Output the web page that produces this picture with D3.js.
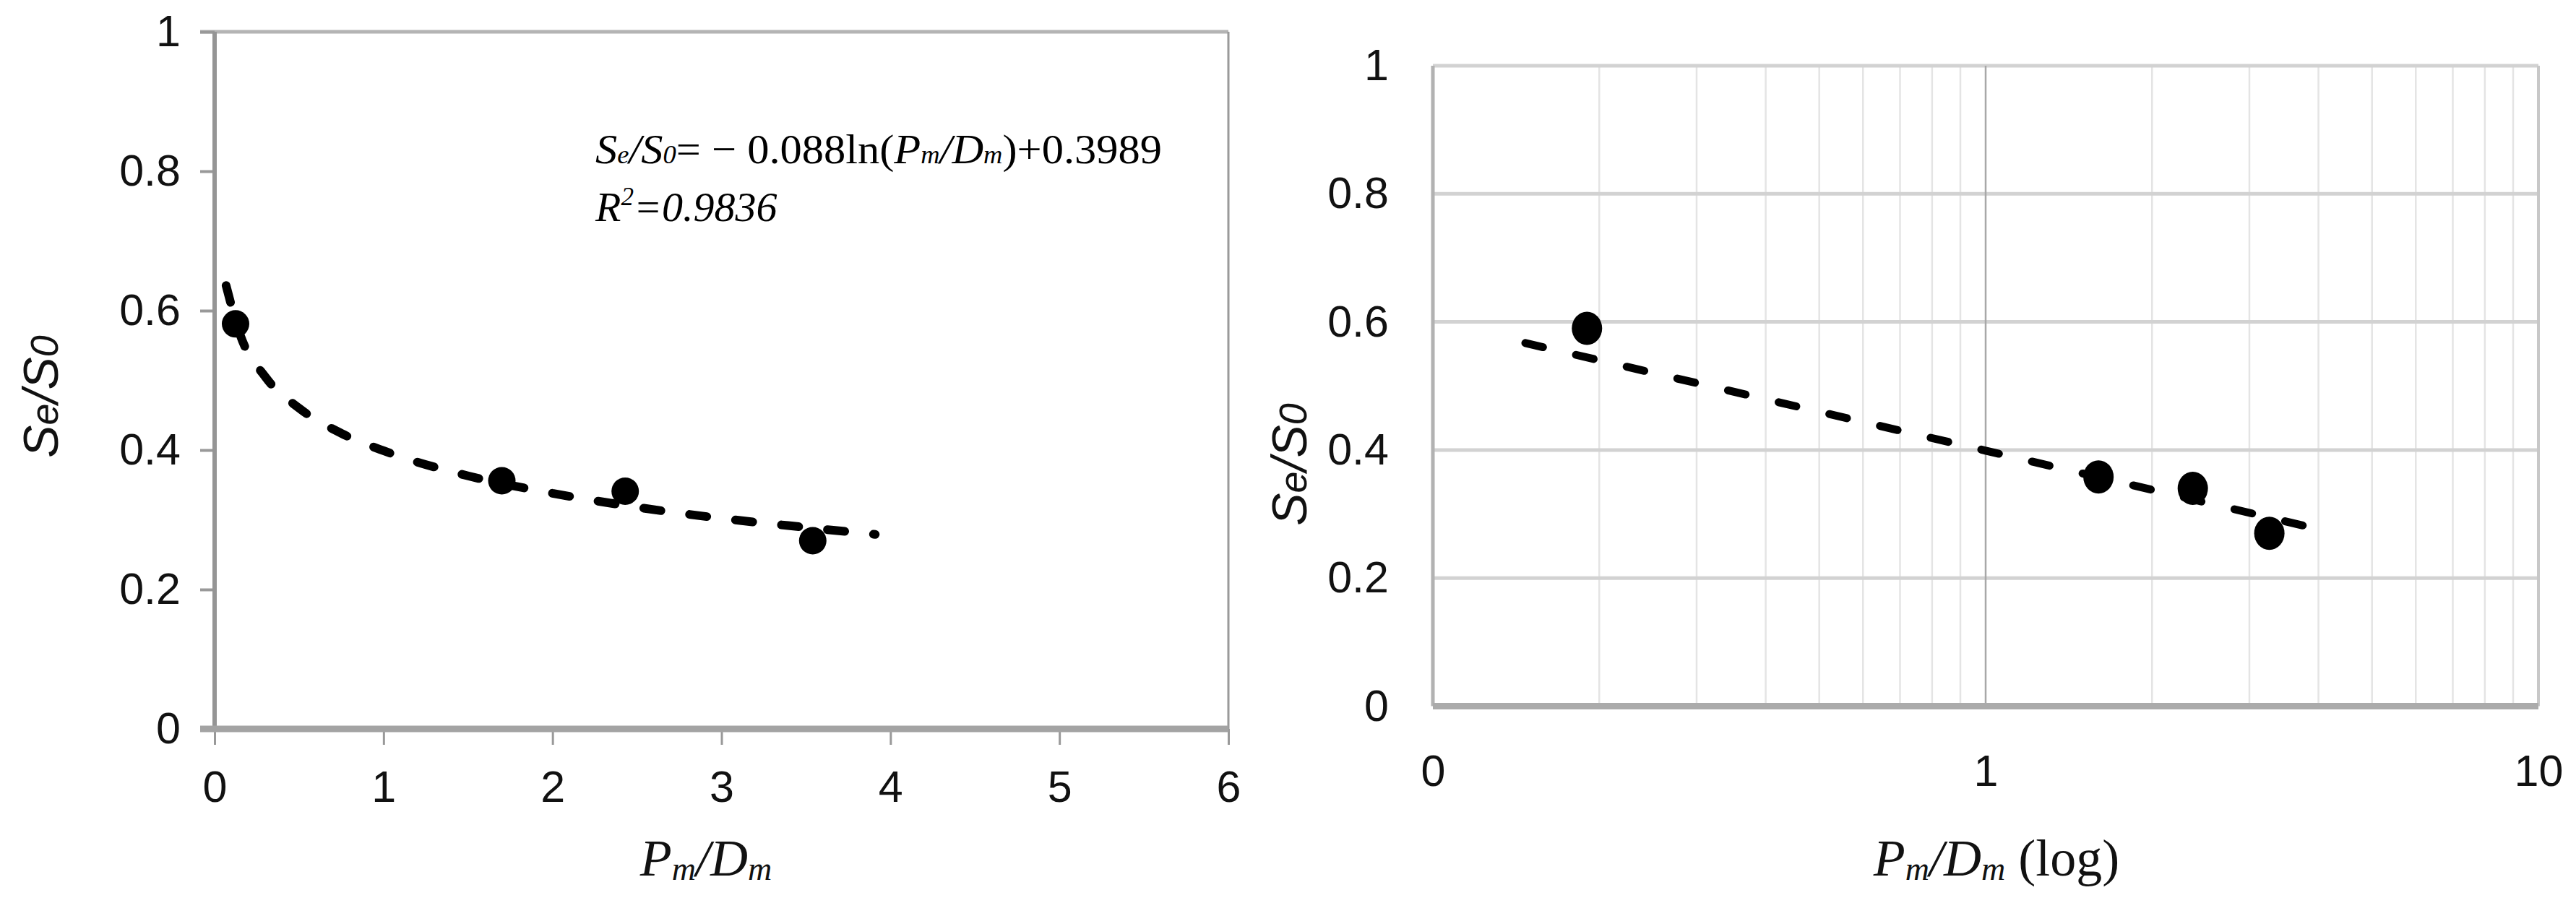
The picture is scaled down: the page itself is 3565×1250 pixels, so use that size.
<!DOCTYPE html>
<html>
<head>
<meta charset="utf-8">
<script src="https://d3js.org/d3.v7.min.js"></script>
<style>
  html, body { margin: 0; padding: 0; background: #fff; }
  svg { display: block; }
  .tick text { font-family: "Liberation Sans", Arial, sans-serif; font-size: 61px; fill: #111; }
  .ytitle { font-family: "Liberation Sans", Arial, sans-serif; font-style: italic; font-size: 68px; fill: #111; }
  .xtitle { font-family: "Liberation Serif", "Times New Roman", serif; font-size: 72px; fill: #111; }
  .eq { font-family: "Liberation Serif", "Times New Roman", serif; font-size: 58px; fill: #000; }
</style>
</head>
<body>
<svg id="chart" width="3565" height="1250"></svg>
<script>
  // left panel (linear x)
  var leftX = [0.124, 1.70, 2.43, 3.54];
  var leftY = [0.581, 0.356, 0.341, 0.270];
  var leftTrendX = [0.068, 0.15, 0.3, 0.5, 0.75, 1, 1.5, 2, 2.5, 3, 3.5, 3.91];
  var leftTrendY = [0.636, 0.566, 0.505, 0.460, 0.424, 0.399, 0.363, 0.338, 0.318, 0.302, 0.289, 0.279];
  var leftXTicks = [0, 1, 2, 3, 4, 5, 6];
  var leftXTickLabels = ["0", "1", "2", "3", "4", "5", "6"];
  var yTicks = [0, 0.2, 0.4, 0.6, 0.8, 1];
  var yTickLabels = ["0", "0.2", "0.4", "0.6", "0.8", "1"];

  // right panel (log x)
  var rightX = [0.19, 1.60, 2.37, 3.26];
  var rightY = [0.590, 0.358, 0.340, 0.270];
  var rightTrendX = [0.147, 1, 3.8];
  var rightTrendY = [0.567, 0.399, 0.281];
  var rightXTicks = [0.1, 1, 10];
  var rightXTickLabels = ["0", "1", "10"];
  var rightMinor = [0.2, 0.3, 0.4, 0.5, 0.6, 0.7, 0.8, 0.9, 2, 3, 4, 5, 6, 7, 8, 9];

  var svg = d3.select("#chart");

  // ---------- left chart ----------
  var xL = d3.scaleLinear().domain([0, 6]).range([297, 1700]);
  var yL = d3.scaleLinear().domain([0, 1]).range([1009, 44]);

  var gL = svg.append("g");

  // frame: top + right
  gL.append("line")
    .attr("x1", xL(0) - 20).attr("x2", xL(6))
    .attr("y1", yL(1)).attr("y2", yL(1))
    .attr("stroke", "#b4b4b4").attr("stroke-width", 5);
  gL.append("line")
    .attr("x1", xL(6)).attr("x2", xL(6))
    .attr("y1", yL(1)).attr("y2", yL(0))
    .attr("stroke", "#9a9a9a").attr("stroke-width", 3);

  var yAxL = gL.append("g")
    .attr("transform", "translate(" + xL(0) + ",0)")
    .call(d3.axisLeft(yL).tickValues(yTicks).tickSize(20).tickPadding(27)
      .tickFormat(function (d, i) { return yTickLabels[i]; }));
  yAxL.select(".domain").remove();
  yAxL.selectAll(".tick line").attr("stroke", "#999").attr("stroke-width", 4);

  var xAxL = gL.append("g")
    .attr("transform", "translate(0," + yL(0) + ")")
    .call(d3.axisBottom(xL).tickValues(leftXTicks).tickSize(22).tickPadding(36)
      .tickFormat(function (d, i) { return leftXTickLabels[i]; }));
  xAxL.select(".domain").remove();
  xAxL.selectAll(".tick line").attr("stroke", "#999").attr("stroke-width", 3);

  // y axis line
  gL.append("line")
    .attr("x1", xL(0)).attr("x2", xL(0))
    .attr("y1", yL(1)).attr("y2", yL(0))
    .attr("stroke", "#959595").attr("stroke-width", 6);
  // x axis line (thick)
  gL.append("line")
    .attr("x1", xL(0) - 20).attr("x2", xL(6))
    .attr("y1", yL(0)).attr("y2", yL(0))
    .attr("stroke", "#a3a3a3").attr("stroke-width", 9);

  var trendL = leftTrendX.map(function (d, i) { return [d, leftTrendY[i]]; });
  gL.append("path")
    .datum(trendL)
    .attr("fill", "none")
    .attr("stroke", "#000")
    .attr("stroke-width", 12)
    .attr("stroke-linecap", "round")
    .attr("stroke-dasharray", "24,40")
    .attr("d", d3.line()
      .x(function (d) { return xL(d[0]); })
      .y(function (d) { return yL(d[1]); })
      .curve(d3.curveMonotoneX));

  gL.selectAll(".dot")
    .data(leftX)
    .enter()
    .append("circle")
    .attr("class", "dot")
    .attr("cx", function (d) { return xL(d); })
    .attr("cy", function (d, i) { return yL(leftY[i]); })
    .attr("r", 19)
    .attr("fill", "#000");

  // equation
  var eq = gL.append("text").attr("class", "eq")
    .attr("x", 824).attr("y", 226)
    .attr("textLength", 784).attr("lengthAdjust", "spacingAndGlyphs");
  eq.append("tspan").attr("font-style", "italic").text("S");
  eq.append("tspan").attr("font-style", "italic").attr("font-size", "35px").text("e");
  eq.append("tspan").attr("font-style", "italic").text("/S");
  eq.append("tspan").attr("font-style", "italic").attr("font-size", "35px").text("0");
  eq.append("tspan").text("= \u2212 0.088ln(");
  eq.append("tspan").attr("font-style", "italic").text("P");
  eq.append("tspan").attr("font-style", "italic").attr("font-size", "35px").text("m");
  eq.append("tspan").attr("font-style", "italic").text("/D");
  eq.append("tspan").attr("font-style", "italic").attr("font-size", "35px").text("m");
  eq.append("tspan").text(")+0.3989");

  var r2 = gL.append("text").attr("class", "eq")
    .attr("x", 824).attr("y", 306).attr("font-style", "italic");
  r2.append("tspan").text("R");
  r2.append("tspan").attr("font-size", "35px").attr("dy", -22).text("2");
  r2.append("tspan").attr("dy", 22).text("=0.9836");

  // axis titles
  var xtL = gL.append("text").attr("class", "xtitle")
    .attr("x", 977).attr("y", 1212).attr("text-anchor", "middle").attr("font-style", "italic");
  xtL.append("tspan").text("P");
  xtL.append("tspan").attr("font-size", "46px").attr("dy", 6).text("m");
  xtL.append("tspan").attr("dy", -6).text("/D");
  xtL.append("tspan").attr("font-size", "46px").attr("dy", 6).text("m");

  function yTitle(g, x, y) {
    var t = g.append("text").attr("class", "ytitle")
      .attr("transform", "translate(" + x + "," + y + ") rotate(-90)")
      .attr("text-anchor", "middle");
    t.append("tspan").text("S");
    t.append("tspan").attr("font-size", "54px").text("e");
    t.append("tspan").text("/S");
    t.append("tspan").attr("font-size", "54px").text("0");
  }
  yTitle(gL, 80, 549);

  // ---------- right chart ----------
  var xR = d3.scaleLog().domain([0.1, 10]).range([1983, 3513]);
  var yR = d3.scaleLinear().domain([0, 1]).range([977.5, 91]);

  var gR = svg.append("g");

  gR.selectAll(".vminor")
    .data(rightMinor)
    .enter()
    .append("line")
    .attr("class", "vminor")
    .attr("x1", function (d) { return xR(d); })
    .attr("x2", function (d) { return xR(d); })
    .attr("y1", yR(1)).attr("y2", yR(0))
    .attr("stroke", "#e4e4e4").attr("stroke-width", 2.5);

  gR.selectAll(".hgrid")
    .data(yTicks.slice(1))
    .enter()
    .append("line")
    .attr("class", "hgrid")
    .attr("x1", xR(0.1)).attr("x2", xR(10))
    .attr("y1", function (d) { return yR(d); })
    .attr("y2", function (d) { return yR(d); })
    .attr("stroke", "#d2d2d2").attr("stroke-width", 5);

  gR.append("line")
    .attr("x1", xR(1)).attr("x2", xR(1))
    .attr("y1", yR(1)).attr("y2", yR(0))
    .attr("stroke", "#a8a8a8").attr("stroke-width", 2.5);
  gR.append("line")
    .attr("x1", xR(10)).attr("x2", xR(10))
    .attr("y1", yR(1)).attr("y2", yR(0))
    .attr("stroke", "#c8c8c8").attr("stroke-width", 4);

  var yAxR = gR.append("g")
    .attr("transform", "translate(" + xR(0.1) + ",0)")
    .call(d3.axisLeft(yR).tickValues(yTicks).tickSize(0).tickPadding(61)
      .tickFormat(function (d, i) { return yTickLabels[i]; }));
  yAxR.select(".domain").remove();

  var xAxR = gR.append("g")
    .attr("transform", "translate(0," + yR(0) + ")")
    .call(d3.axisBottom(xR).tickValues(rightXTicks).tickSize(0).tickPadding(67)
      .tickFormat(function (d, i) { return rightXTickLabels[i]; }));
  xAxR.select(".domain").remove();

  gR.append("line")
    .attr("x1", xR(0.1)).attr("x2", xR(0.1))
    .attr("y1", yR(1)).attr("y2", yR(0))
    .attr("stroke", "#b2b2b2").attr("stroke-width", 5);
  gR.append("line")
    .attr("x1", xR(0.1)).attr("x2", xR(10))
    .attr("y1", yR(0)).attr("y2", yR(0))
    .attr("stroke", "#ababab").attr("stroke-width", 9);

  var trendR = rightTrendX.map(function (d, i) { return [d, rightTrendY[i]]; });
  gR.append("path")
    .datum(trendR)
    .attr("fill", "none")
    .attr("stroke", "#000")
    .attr("stroke-width", 11)
    .attr("stroke-linecap", "round")
    .attr("stroke-dasharray", "25,47")
    .attr("d", d3.line()
      .x(function (d) { return xR(d[0]); })
      .y(function (d) { return yR(d[1]); }));

  gR.selectAll(".dot")
    .data(rightX)
    .enter()
    .append("ellipse")
    .attr("class", "dot")
    .attr("cx", function (d) { return xR(d); })
    .attr("cy", function (d, i) { return yR(rightY[i]); })
    .attr("rx", 21)
    .attr("ry", 23)
    .attr("fill", "#000");

  var xtR = gR.append("text").attr("class", "xtitle")
    .attr("x", 2763).attr("y", 1212).attr("text-anchor", "middle");
  xtR.append("tspan").attr("font-style", "italic").text("P");
  xtR.append("tspan").attr("font-style", "italic").attr("font-size", "46px").attr("dy", 6).text("m");
  xtR.append("tspan").attr("font-style", "italic").attr("dy", -6).text("/D");
  xtR.append("tspan").attr("font-style", "italic").attr("font-size", "46px").attr("dy", 6).text("m");
  xtR.append("tspan").attr("dy", -6).text(" (log)");

  yTitle(gR, 1808, 643);
</script>
</body>
</html>
